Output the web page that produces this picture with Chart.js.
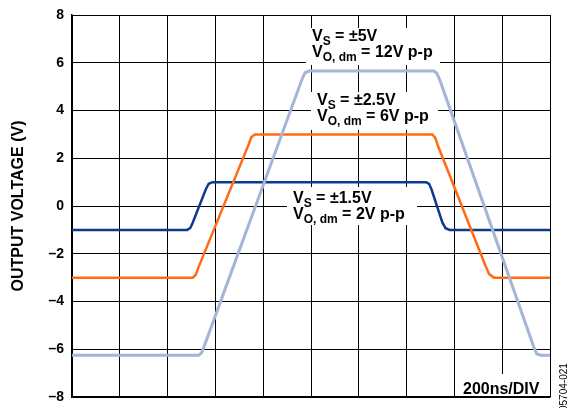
<!DOCTYPE html>
<html><head><meta charset="utf-8">
<script src="https://cdn.jsdelivr.net/npm/chart.js@4/dist/chart.umd.min.js"></script>
<style>html,body{margin:0;padding:0;background:#fff}</style>
</head><body>
<canvas id="c" width="569" height="408"></canvas>
<script>
// time axis in ns (200 ns per division)
const timeVs15 = [0, 482, 495, 505, 560, 572, 588, 1482, 1494, 1504, 1550, 1563, 1580, 2000];
const voltVs15 = [-1, -1, -0.92, -0.7, 0.7, 0.93, 1, 1, 0.93, 0.7, -0.7, -0.93, -1, -1];

const timeVs25 = [0, 505, 518, 530, 738, 750, 765, 1508, 1520, 1532, 1730, 1745, 1765, 2000];
const voltVs25 = [-3, -3, -2.88, -2.55, 2.55, 2.88, 3, 3, 2.85, 2.5, -2.5, -2.85, -3, -3];

const timeVs5 = [0, 530, 542, 552, 962, 975, 992, 1515, 1527, 1540, 1932, 1945, 1962, 2000];
const voltVs5 = [-6.25, -6.25, -6.15, -5.9, 5.3, 5.58, 5.65, 5.65, 5.55, 5.25, -5.9, -6.2, -6.25, -6.25];

const yTicks = [-8, -6, -4, -2, 0, 2, 4, 6, 8];

const toPts = (t, v) => t.map((x, i) => ({x: x, y: v[i]}));

const labels = [
  {x: 312, y: 41, l1: [['V',0],['S',1],[' = \u00b15V',0]], l2: [['V',0],['O, dm',1],[' = 12V p-p',0]], box: [306, 28, 440, 65]},
  {x: 317, y: 105, l1: [['V',0],['S',1],[' = \u00b12.5V',0]], l2: [['V',0],['O, dm',1],[' = 6V p-p',0]], box: [311, 92, 438, 130]},
  {x: 293, y: 203, l1: [['V',0],['S',1],[' = \u00b11.5V',0]], l2: [['V',0],['O, dm',1],[' = 2V p-p',0]], box: [287, 187, 417, 225]}
];

function drawRich(ctx, x, y, parts) {
  let cx = x;
  for (const [t, sub] of parts) {
    ctx.font = sub ? 'bold 12px Arial, "Liberation Sans", sans-serif' : 'bold 16px Arial, "Liberation Sans", sans-serif';
    ctx.fillText(t, cx, sub ? y + 4 : y);
    cx += ctx.measureText(t).width;
  }
}

const annot = {
  id: 'annot',
  beforeDatasetsDraw(chart) {
    const ctx = chart.ctx;
    ctx.save();
    ctx.fillStyle = '#fff';
    for (const L of labels) {
      const b = L.box;
      ctx.fillRect(b[0], b[1], b[2] - b[0], b[3] - b[1]);
    }
    ctx.fillRect(457, 374, 92, 22);
    ctx.restore();
  },
  afterDatasetsDraw(chart) {
    const ctx = chart.ctx;
    ctx.save();
    ctx.fillStyle = '#000';
    ctx.textBaseline = 'alphabetic';
    ctx.textAlign = 'left';
    for (const L of labels) {
      drawRich(ctx, L.x, L.y, L.l1);
      drawRich(ctx, L.x, L.y + 16, L.l2);
    }
    ctx.font = 'bold 16px Arial, "Liberation Sans", sans-serif';
    ctx.fillText('200ns/DIV', 463, 394);
    ctx.font = '10px Arial, "Liberation Sans", sans-serif';
    ctx.translate(567, 411);
    ctx.rotate(-Math.PI / 2);
    ctx.fillText('05704-021', 0, 0);
    ctx.restore();
  }
};

new Chart(document.getElementById('c'), {
  type: 'line',
  data: {
    datasets: [
      {data: toPts(timeVs5, voltVs5), borderColor: '#a3b6d6', borderWidth: 3, pointRadius: 0, tension: 0},
      {data: toPts(timeVs25, voltVs25), borderColor: '#ff6a13', borderWidth: 2.5, pointRadius: 0, tension: 0},
      {data: toPts(timeVs15, voltVs15), borderColor: '#0d3b8c', borderWidth: 2.5, pointRadius: 0, tension: 0}
    ]
  },
  options: {
    responsive: false,
    animation: false,
    layout: {padding: {left: 0, top: 15, right: 19, bottom: 11}},
    plugins: {legend: {display: false}, tooltip: {enabled: false}},
    scales: {
      x: {
        type: 'linear', min: 0, max: 2000,
        ticks: {display: false, stepSize: 200},
        grid: {color: '#000', lineWidth: 1, drawTicks: false},
        border: {color: '#000', width: 1.5},
        afterFit(s) { s.height = 0; s.paddingLeft = 0; s.paddingRight = 0; }
      },
      y: {
        min: -8, max: 8,
        afterBuildTicks(s) { s.ticks = yTicks.map(v => ({value: v})); },
        ticks: {
          color: '#000', padding: 8,
          font: {family: 'Arial, "Liberation Sans", sans-serif', size: 14, weight: 'bold'},
          callback: v => String(v).replace('-', '\u2013')
        },
        grid: {color: '#000', lineWidth: 1, drawTicks: false},
        border: {color: '#000', width: 1.5},
        title: {
          display: true, text: 'OUTPUT VOLTAGE (V)', color: '#000',
          font: {family: 'Arial, "Liberation Sans", sans-serif', size: 16, weight: 'bold'},
          padding: {top: 9, bottom: 0}
        },
        afterFit(s) { s.width = 72; s.paddingTop = 0; s.paddingBottom = 0; }
      }
    }
  },
  plugins: [annot]
});
</script>
</body></html>
